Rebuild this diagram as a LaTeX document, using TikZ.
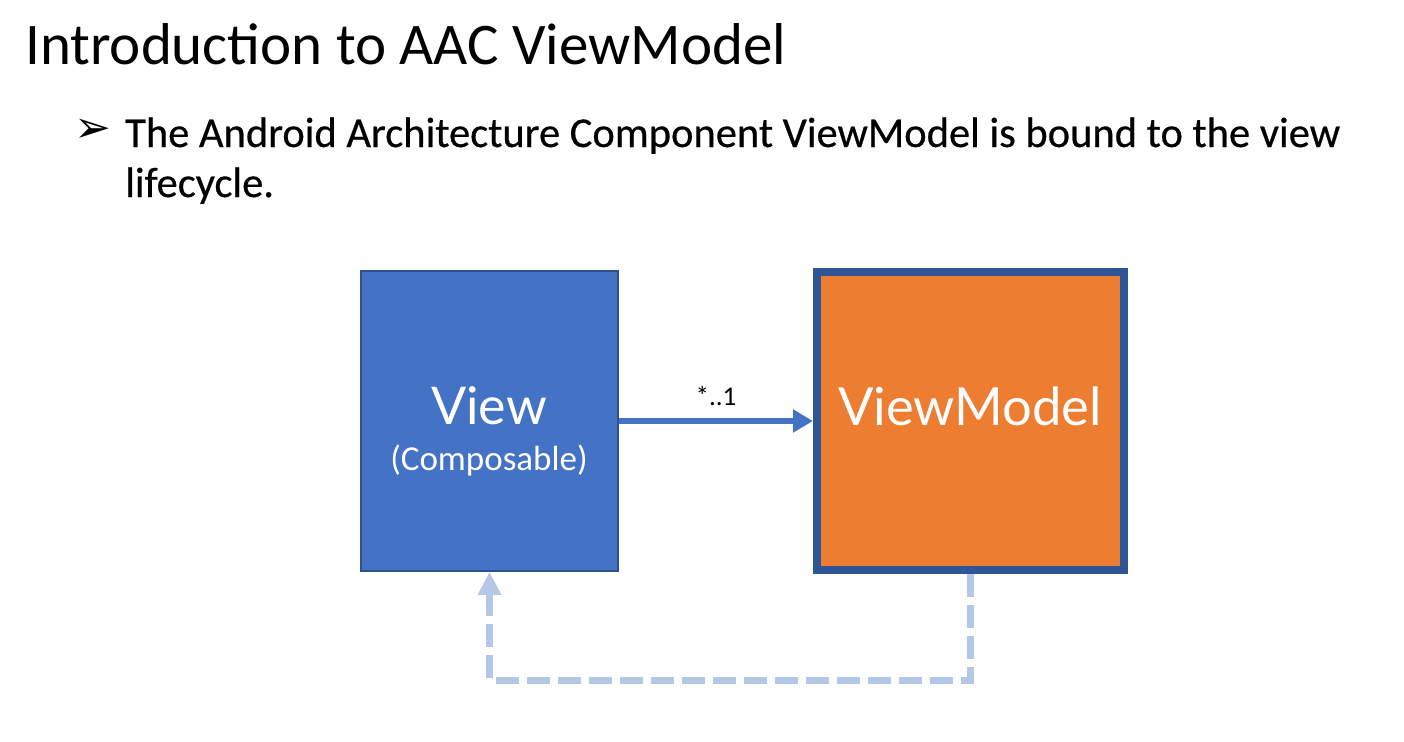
\documentclass[tikz,border=0pt]{standalone}
\usepackage{fontspec}
\setmainfont{Carlito}
\newfontfamily\latofont{Lato}
\newfontfamily\symbfont{DejaVu Sans}
\newfontfamily\bodyfont[FakeBold=0.5]{Carlito}
\usetikzlibrary{arrows.meta}
\definecolor{viewblue}{HTML}{4472C4}
\definecolor{viewedge}{HTML}{2F528F}
\definecolor{vmorange}{HTML}{ED7D31}
\definecolor{vmedge}{HTML}{2F5597}
\definecolor{lifeblue}{HTML}{B4C7E7}
\tikzset{
  viewbox/.style={draw=viewedge, line width=1.5pt, fill=viewblue, minimum width=257pt, minimum height=300pt, inner sep=0pt},
  vmbox/.style={draw=vmedge, line width=8pt, fill=vmorange, minimum width=307pt, minimum height=298pt, inner sep=0pt},
  boxtext/.style={text=white, anchor=base, inner sep=0pt},
  bodyline/.style={anchor=base west, inner sep=0pt, font=\bodyfont\fontsize{42.5}{45}\selectfont},
  assoc/.style={draw=viewblue, line width=6pt, -{Triangle[length=20pt,width=22pt]}},
  lifelink/.style={draw=lifeblue, line width=7pt, dash pattern=on 23pt off 8pt, -{Triangle[length=23pt,width=22pt]}}
}
\begin{document}
\begin{tikzpicture}[x=1pt, y=-1pt]
  \useasboundingbox (0,0) rectangle (1404,741);
  % heading and bullet text
  \node[anchor=base west, inner sep=0pt, font=\fontsize{59}{62}\selectfont] (title) at (25,65) {Introduction to AAC ViewModel};
  \node[inner sep=0pt, font=\symbfont\fontsize{44}{46}\selectfont] (bullet) at (93,131) {➢};
  \node[bodyline] (line1) at (125,147) {The Android Architecture Component ViewModel is bound to the view};
  \node[bodyline] (line2) at (125,197) {lifecycle.};

  % the two boxes
  \node[viewbox] (view) at (489.5,421) {};
  \node[vmbox] (vm) at (970.5,421) {};
  \node[boxtext, font=\latofont\fontsize{52}{54}\selectfont] (viewname) at (489,424) {View};
  \node[boxtext, font=\fontsize{35}{37}\selectfont] (viewsub) at (489,470) {(Composable)};
  \node[boxtext, font=\latofont\fontsize{52.5}{55}\selectfont] (vmname) at (970,425) {ViewModel};

  % connectors
  \draw[assoc] (view.east) -- (vm.west);
  \node[anchor=base, inner sep=0pt, font=\fontsize{27}{29}\selectfont] (mult) at (716,405) {*..1};
  \draw[lifelink] (vm.south) -- ++(0,106) -| (view.south);
\end{tikzpicture}
\end{document}
